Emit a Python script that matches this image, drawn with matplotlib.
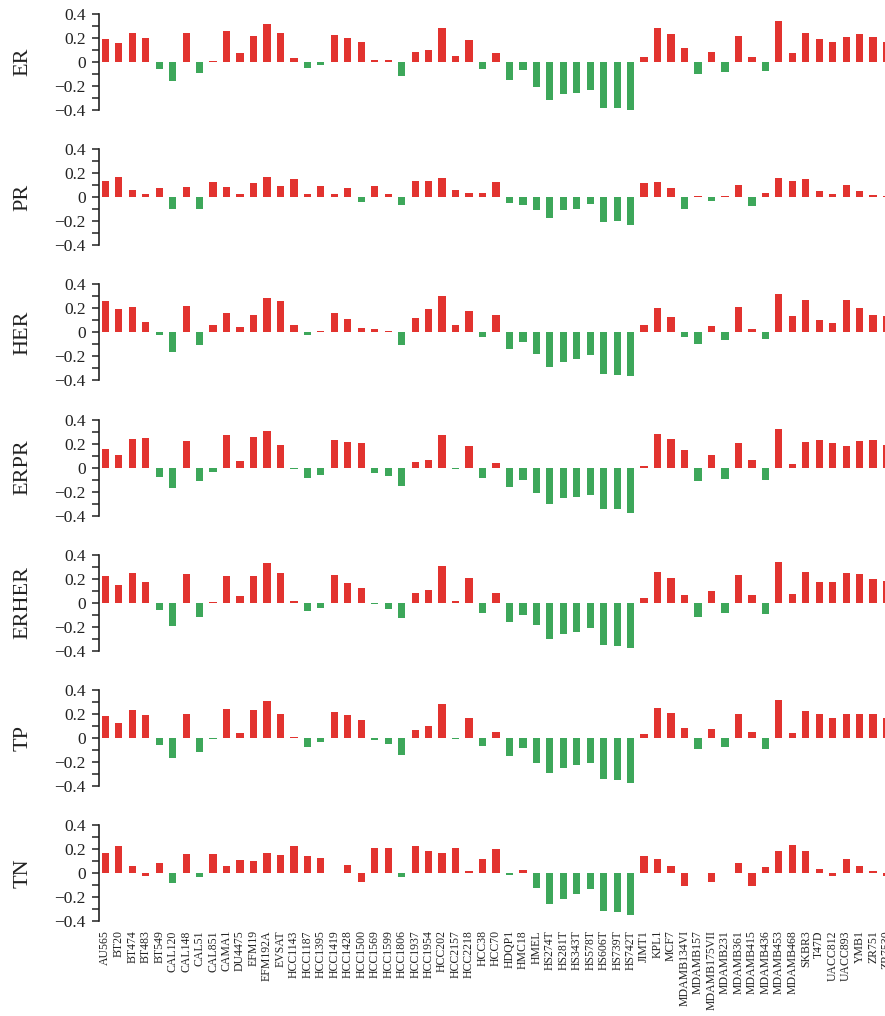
import matplotlib
matplotlib.use("Agg")
import matplotlib.pyplot as plt
from matplotlib.ticker import FixedLocator, FixedFormatter, MultipleLocator

cell_lines = ["AU565", "BT20", "BT474", "BT483", "BT549", "CAL120", "CAL148", "CAL51",
              "CAL851", "CAMA1", "DU4475", "EFM19", "EFM192A", "EVSAT", "HCC1143",
              "HCC1187", "HCC1395", "HCC1419", "HCC1428", "HCC1500", "HCC1569", "HCC1599",
              "HCC1806", "HCC1937", "HCC1954", "HCC202", "HCC2157", "HCC2218", "HCC38",
              "HCC70", "HDQP1", "HMC18", "HMEL", "HS274T", "HS281T", "HS343T", "HS578T",
              "HS606T", "HS739T", "HS742T", "JIMT1", "KPL1", "MCF7", "MDAMB134VI",
              "MDAMB157", "MDAMB175VII", "MDAMB231", "MDAMB361", "MDAMB415", "MDAMB436",
              "MDAMB453", "MDAMB468", "SKBR3", "T47D", "UACC812", "UACC893", "YMB1",
              "ZR751", "ZR7530"]

er = [0.19, 0.155, 0.24, 0.20, -0.055, -0.155, 0.245, -0.09, 0.005, 0.255,
      0.078, 0.22, 0.32, 0.24, 0.036, -0.047, -0.022, 0.228, 0.20, 0.17,
      0.02, 0.014, -0.12, 0.086, 0.10, 0.286, 0.053, 0.186, -0.055, 0.078,
      -0.147, -0.064, -0.205, -0.32, -0.27, -0.255, -0.23, -0.38, -0.38, -0.397,
      0.044, 0.286, 0.236, 0.12, -0.097, 0.086, -0.08, 0.22, 0.044, -0.072,
      0.344, 0.078, 0.245, 0.194, 0.17, 0.21, 0.236, 0.21, 0.17]

pr = [0.133, 0.167, 0.058, 0.025, 0.075, -0.10, 0.083, -0.10, 0.125, 0.083,
      0.025, 0.117, 0.167, 0.092, 0.15, 0.025, 0.092, 0.025, 0.075, -0.042,
      0.092, 0.025, -0.067, 0.133, 0.133, 0.158, 0.058, 0.033, 0.033, 0.125,
      -0.05, -0.067, -0.108, -0.175, -0.108, -0.10, -0.058, -0.208, -0.20, -0.233,
      0.117, 0.125, 0.075, -0.10, 0.01, -0.033, 0.01, 0.10, -0.075, 0.033,
      0.158, 0.133, 0.15, 0.05, 0.025, 0.10, 0.05, 0.017, 0.01]

her = [0.258, 0.192, 0.208, 0.083, -0.025, -0.167, 0.217, -0.108, 0.058, 0.158,
       0.042, 0.142, 0.283, 0.258, 0.058, -0.025, 0.008, 0.158, 0.108, 0.033,
       0.025, 0.008, -0.108, 0.117, 0.192, 0.30, 0.058, 0.175, -0.042, 0.142,
       -0.142, -0.083, -0.183, -0.292, -0.25, -0.225, -0.192, -0.35, -0.358, -0.367,
       0.058, 0.20, 0.125, -0.042, -0.10, 0.05, -0.067, 0.208, 0.025, -0.058,
       0.317, 0.133, 0.267, 0.10, 0.075, 0.267, 0.20, 0.142, 0.133]

erpr = [0.158, 0.108, 0.242, 0.25, -0.075, -0.167, 0.225, -0.108, -0.033, 0.275,
        0.058, 0.258, 0.308, 0.192, -0.008, -0.083, -0.058, 0.233, 0.217, 0.208,
        -0.042, -0.067, -0.15, 0.05, 0.067, 0.275, -0.008, 0.183, -0.083, 0.042,
        -0.158, -0.10, -0.208, -0.30, -0.25, -0.242, -0.225, -0.342, -0.342, -0.375,
        0.017, 0.283, 0.242, 0.15, -0.108, 0.108, -0.092, 0.208, 0.067, -0.10,
        0.325, 0.033, 0.217, 0.233, 0.208, 0.183, 0.225, 0.233, 0.192]

erher = [0.222, 0.147, 0.247, 0.172, -0.061, -0.194, 0.242, -0.119, 0.006, 0.222,
         0.056, 0.222, 0.331, 0.247, 0.014, -0.069, -0.044, 0.231, 0.164, 0.122,
         -0.011, -0.053, -0.128, 0.081, 0.106, 0.306, 0.014, 0.206, -0.086, 0.081,
         -0.161, -0.103, -0.186, -0.303, -0.261, -0.244, -0.211, -0.353, -0.361, -0.378,
         0.039, 0.256, 0.206, 0.064, -0.119, 0.097, -0.086, 0.231, 0.064, -0.094,
         0.339, 0.072, 0.256, 0.172, 0.172, 0.247, 0.239, 0.197, 0.181]

tp = [0.186, 0.128, 0.236, 0.194, -0.056, -0.164, 0.203, -0.114, -0.006, 0.244,
      0.044, 0.236, 0.311, 0.203, 0.011, -0.072, -0.031, 0.219, 0.194, 0.153,
      -0.014, -0.047, -0.139, 0.069, 0.103, 0.286, -0.006, 0.169, -0.064, 0.053,
      -0.147, -0.081, -0.206, -0.289, -0.247, -0.222, -0.206, -0.339, -0.347, -0.372,
      0.036, 0.253, 0.211, 0.086, -0.089, 0.078, -0.072, 0.203, 0.053, -0.089,
      0.319, 0.044, 0.228, 0.203, 0.169, 0.203, 0.203, 0.203, 0.169]

tn = [0.169, 0.228, 0.061, -0.022, 0.086, -0.081, 0.161, -0.031, 0.161, 0.061,
      0.111, 0.103, 0.169, 0.153, 0.228, 0.144, 0.128, 0.005, 0.069, -0.072,
      0.211, 0.211, -0.031, 0.228, 0.186, 0.169, 0.211, 0.019, 0.119, 0.203,
      -0.014, 0.028, -0.122, -0.256, -0.214, -0.172, -0.131, -0.314, -0.322, -0.347,
      0.144, 0.119, 0.061, -0.106, 0.005, -0.072, 0.005, 0.086, -0.106, 0.053,
      0.186, 0.236, 0.186, 0.036, -0.022, 0.119, 0.061, 0.019, -0.022]

# negative bars in the TN panel that are nevertheless drawn in red
tn_red_negative = ["BT483", "HCC1500", "MDAMB134VI", "MDAMB175VII", "MDAMB415",
                   "UACC812", "ZR7530"]

panel_names = ["ER", "PR", "HER", "ERPR", "ERHER", "TP", "TN"]
panel_values = [er, pr, her, erpr, erher, tp, tn]

ytick_values = [-0.4, -0.2, 0, 0.2, 0.4]
ytick_labels = ["\u22120.4", "\u22120.2", "0", "0.2", "0.4"]

RED = "#E2332F"
GREEN = "#3DA75A"
SERIF = ["Liberation Serif", "DejaVu Serif"]

W, H = 885, 1016
fig = plt.figure(figsize=(W / 100, H / 100), dpi=100)

step_px = 13.47
x_lo, x_hi = -0.47, 58.6
left_px = 99
width_px = (x_hi - x_lo) * step_px
panel_h = 96
panel_gap = 135.2
top0 = 14

x = list(range(len(cell_lines)))

for i, (name, vals) in enumerate(zip(panel_names, panel_values)):
    top = top0 + panel_gap * i
    ax = fig.add_axes([left_px / W, 1 - (top + panel_h) / H, width_px / W, panel_h / H])
    cols = []
    for cl, v in zip(cell_lines, vals):
        if v >= 0:
            cols.append(RED)
        elif name == "TN" and cl in tn_red_negative:
            cols.append(RED)
        else:
            cols.append(GREEN)
    ax.bar(x, vals, width=0.54, color=cols, linewidth=0)
    ax.set_xlim(x_lo, x_hi)
    ax.set_ylim(-0.4, 0.4)
    for s in ["top", "right", "bottom"]:
        ax.spines[s].set_visible(False)
    ax.spines["left"].set_linewidth(1.2)
    ax.spines["left"].set_color("#222222")
    ax.yaxis.set_major_locator(FixedLocator(ytick_values))
    ax.yaxis.set_major_formatter(FixedFormatter(ytick_labels))
    ax.yaxis.set_minor_locator(MultipleLocator(0.1))
    ax.tick_params(axis="y", which="both", direction="out", length=5, width=1.1,
                   color="#222222", pad=4.5)
    ax.tick_params(axis="y", which="major", labelsize=12.5)
    for lab in ax.get_yticklabels():
        lab.set_family(SERIF)
        lab.set_color("#222222")
    ax.set_ylabel(name, family=SERIF, fontsize=16, color="#222222")
    ax.yaxis.set_label_coords(-0.0836, 0.5)
    if name == "TN":
        ax.set_xticks(x)
        ax.set_xticklabels(cell_lines, rotation=90, family=SERIF, fontsize=8.5,
                           color="#222222")
        ax.tick_params(axis="x", length=0, pad=6.5)
    else:
        ax.set_xticks([])

fig.savefig("out.png", dpi=100)
